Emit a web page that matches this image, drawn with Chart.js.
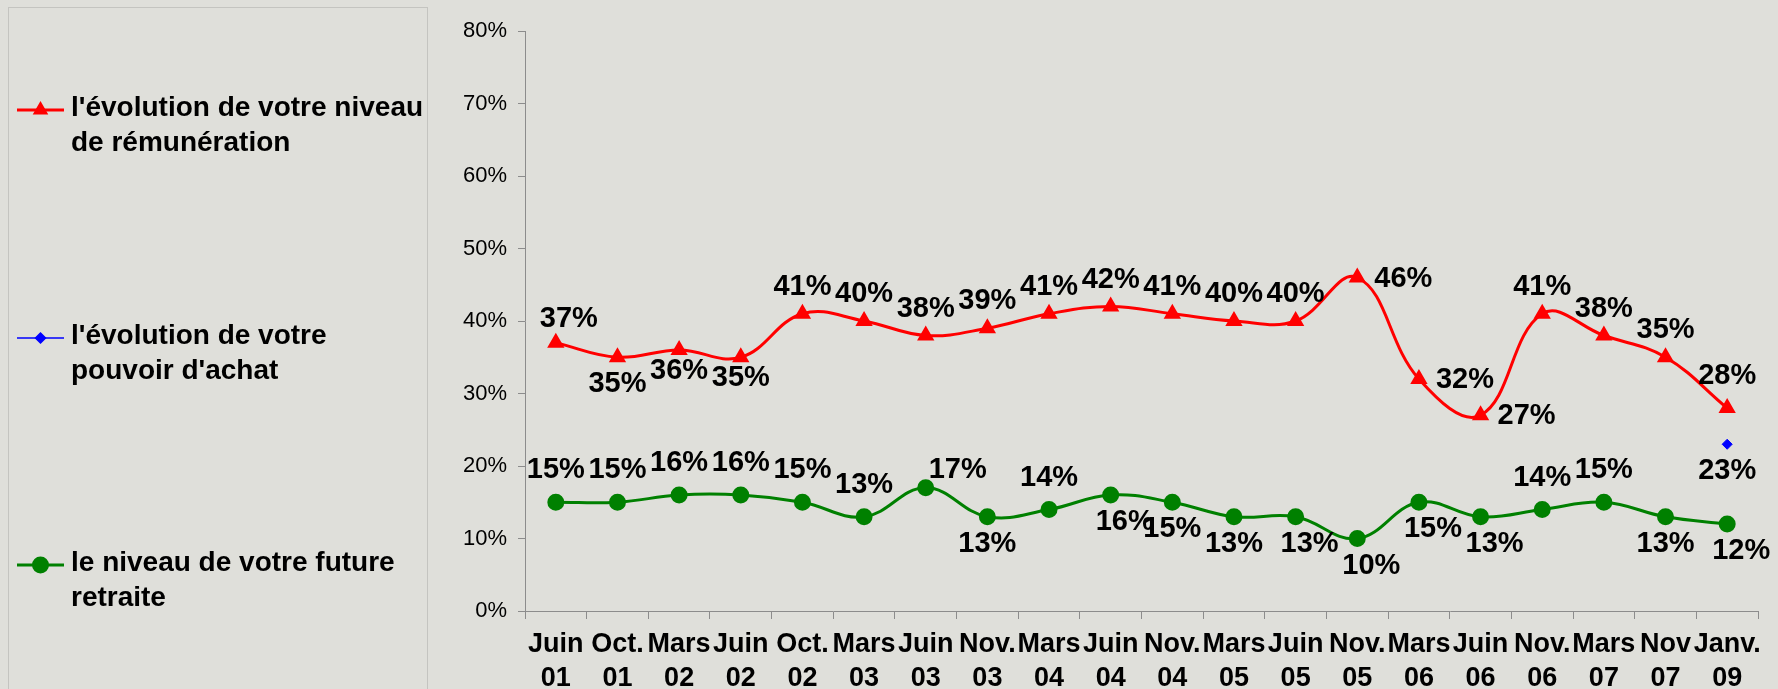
<!DOCTYPE html>
<html lang="fr">
<head>
<meta charset="utf-8">
<title>Évolution</title>
<script src="https://cdn.jsdelivr.net/npm/chart.js@4.4.1/dist/chart.umd.min.js"></script>
<style>
  html, body { margin: 0; padding: 0; background: #dfdfda; }
  canvas { display: block; }
</style>
</head>
<body>
<canvas id="graphique" width="1778" height="689"></canvas>
<script>
// ------------------------------------------------------------ données
const MOIS = [
  ["Juin", "01"], ["Oct.", "01"], ["Mars", "02"], ["Juin", "02"], ["Oct.", "02"],
  ["Mars", "03"], ["Juin", "03"], ["Nov.", "03"], ["Mars", "04"], ["Juin", "04"],
  ["Nov.", "04"], ["Mars", "05"], ["Juin", "05"], ["Nov.", "05"], ["Mars", "06"],
  ["Juin", "06"], ["Nov.", "06"], ["Mars", "07"], ["Nov", "07"], ["Janv.", "09"],
];
const REMUNERATION = [37, 35, 36, 35, 41, 40, 38, 39, 41, 42, 41, 40, 40, 46, 32, 27, 41, 38, 35, 28];
const POUVOIR_ACHAT = [null, null, null, null, null, null, null, null, null, null,
  null, null, null, null, null, null, null, null, null, 23];
const RETRAITE = [15, 15, 16, 16, 15, 13, 17, 13, 14, 16, 15, 13, 13, 10, 15, 13, 14, 15, 13, 12];
const GRADUATIONS_Y = [0, 10, 20, 30, 40, 50, 60, 70, 80];

// où poser l'étiquette de chaque point (a = dessus, b = dessous, r = à droite...)
const POS_REMU = ["ad", "b", "bh", "bh", "a", "a", "a", "a", "a", "a", "a", "a", "a", "r", "r", "r", "a", "a", "a", "ah"];
const POS_POUVOIR = ["", "", "", "", "", "", "", "", "", "", "", "", "", "", "", "", "", "", "", "b"];
const POS_RETRAITE = ["ah", "ah", "ah", "ah", "ah", "ah", "ar", "b", "ah", "br", "b", "b", "br", "br", "br", "br", "ah", "ah", "b", "br"];

const DECALAGES = {
  a: [0, -27], ah: [0, -32], ad: [13, -24],
  b: [0, 27], bh: [0, 21], br: [14, 27],
  r: [46, 1], ar: [32, -18],
};

const POLICE = '"Liberation Sans", Arial, Helvetica, sans-serif';
const GRIS_AXE = "#8c8c8c";
const FOND = "#dfdfda";

// ------------------------------------------------------------ plugins
const fond = {
  id: "fond",
  beforeDraw(chart) {
    const ctx = chart.ctx;
    ctx.save();
    ctx.fillStyle = FOND;
    ctx.fillRect(0, 0, chart.width, chart.height);
    ctx.restore();
  },
};

const etiquettes = {
  id: "etiquettes",
  afterDatasetsDraw(chart) {
    const ctx = chart.ctx;
    ctx.save();
    ctx.font = `bold 29px ${POLICE}`;
    ctx.fillStyle = "#000";
    ctx.textAlign = "center";
    ctx.textBaseline = "middle";
    chart.data.datasets.forEach((ds, i) => {
      chart.getDatasetMeta(i).data.forEach((pt, j) => {
        const v = ds.data[j];
        if (v == null) return;
        const d = DECALAGES[ds.positions[j]] || DECALAGES.a;
        ctx.fillText(v + "%", pt.x + d[0], pt.y + d[1]);
      });
    });
    ctx.restore();
  },
};

// découpe un libellé en lignes qui tiennent dans la largeur
function couperTexte(ctx, texte, largeur) {
  const mots = texte.split(" ");
  const lignes = [];
  let ligne = "";
  mots.forEach((m) => {
    const essai = ligne ? ligne + " " + m : m;
    if (ligne && ctx.measureText(essai).width > largeur) {
      lignes.push(ligne);
      ligne = m;
    } else {
      ligne = essai;
    }
  });
  if (ligne) lignes.push(ligne);
  return lignes;
}

const legende = {
  id: "legende",
  afterDraw(chart) {
    const ctx = chart.ctx;
    const lignesY = [110, 338, 565];
    ctx.save();
    ctx.strokeStyle = "#c4c4c0";
    ctx.lineWidth = 1;
    ctx.strokeRect(8.5, 7.5, 419, 700);

    ctx.font = `bold 28px ${POLICE}`;
    ctx.textBaseline = "middle";
    ctx.textAlign = "left";
    chart.data.datasets.forEach((ds, i) => {
      const y = lignesY[i];
      ctx.strokeStyle = ds.borderColor;
      ctx.lineWidth = ds.legendLineWidth;
      ctx.beginPath();
      ctx.moveTo(17, y);
      ctx.lineTo(64, y);
      ctx.stroke();
      ctx.fillStyle = ds.pointBackgroundColor;
      ctx.strokeStyle = ds.pointBorderColor;
      Chart.helpers.drawPoint(ctx, {
        pointStyle: ds.pointStyle, radius: ds.legendRadius, rotation: 0, borderWidth: 1,
      }, 40.5, y);

      ctx.fillStyle = "#000";
      couperTexte(ctx, ds.label, 360).forEach((l, k) => {
        ctx.fillText(l, 71, y - 2 + k * 35);
      });
    });
    ctx.restore();
  },
};

// ------------------------------------------------------------ graphique
new Chart(document.getElementById("graphique"), {
  type: "line",
  data: {
    labels: MOIS,
    datasets: [
      {
        label: "l'évolution de votre niveau de rémunération",
        data: REMUNERATION, positions: POS_REMU,
        borderColor: "#ff0000", borderWidth: 3, tension: 0.4,
        pointStyle: "triangle", pointRadius: 7,
        pointBackgroundColor: "#ff0000", pointBorderColor: "#ff0000",
        legendLineWidth: 3, legendRadius: 6,
      },
      {
        label: "l'évolution de votre pouvoir d'achat",
        data: POUVOIR_ACHAT, positions: POS_POUVOIR,
        borderColor: "#0000ff", borderWidth: 1,
        pointStyle: "rectRot", pointRadius: 5,
        pointBackgroundColor: "#0000ff", pointBorderColor: "#0000ff",
        legendLineWidth: 1.5, legendRadius: 5,
      },
      {
        label: "le niveau de votre future retraite",
        data: RETRAITE, positions: POS_RETRAITE,
        borderColor: "#008000", borderWidth: 3, tension: 0.4,
        pointStyle: "circle", pointRadius: 7,
        pointBackgroundColor: "#008000", pointBorderColor: "#008000",
        legendLineWidth: 3, legendRadius: 7,
      },
    ],
  },
  options: {
    responsive: false,
    animation: false,
    layout: { padding: { left: 430, right: 20, top: 31, bottom: 0 } },
    plugins: { legend: { display: false }, tooltip: { enabled: false } },
    scales: {
      x: {
        offset: true,
        grid: { offset: true, drawOnChartArea: false, tickLength: 8, color: GRIS_AXE },
        border: { color: GRIS_AXE },
        ticks: {
          autoSkip: false, maxRotation: 0, minRotation: 0, padding: 8, color: "#000",
          font: { family: POLICE, size: 27, weight: "bold", lineHeight: 1.27 },
        },
        afterFit: (s) => { s.height = 78; },
      },
      y: {
        min: 0, max: 80,
        afterBuildTicks: (s) => { s.ticks = GRADUATIONS_Y.map((v) => ({ value: v })); },
        grid: { drawOnChartArea: false, tickLength: 7, color: GRIS_AXE },
        border: { color: GRIS_AXE },
        ticks: {
          padding: 11, color: "#000",
          font: { family: POLICE, size: 22 },
          callback: (v) => v + "%",
        },
        afterFit: (s) => { s.width = 95; },
      },
    },
  },
  plugins: [fond, etiquettes, legende],
});
</script>
</body>
</html>
